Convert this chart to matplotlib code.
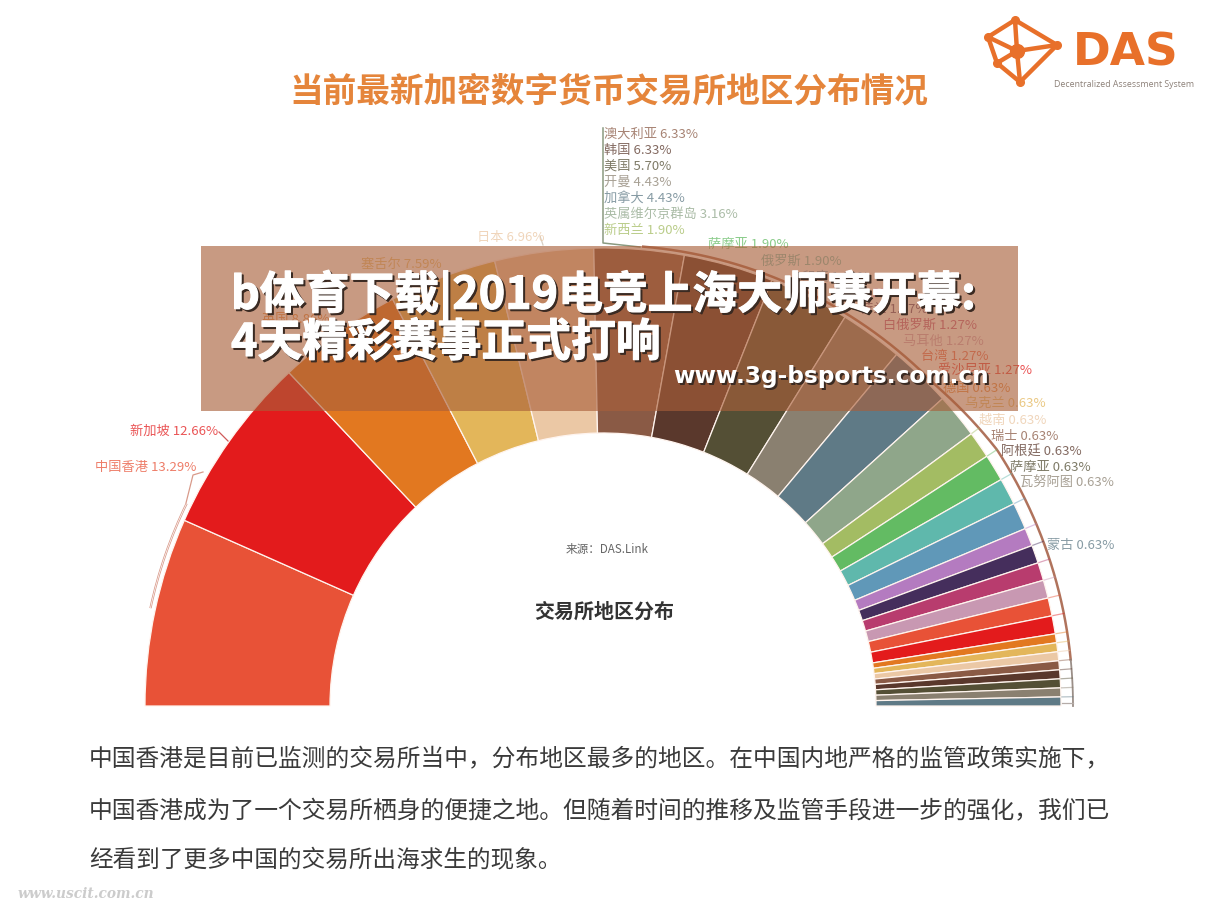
import numpy as np
import matplotlib
matplotlib.use("Agg")
import matplotlib.pyplot as plt
import matplotlib.patheffects as pe
from matplotlib.patches import Arc, Rectangle

plt.rcParams['font.family'] = ['Noto Sans CJK SC', 'DejaVu Sans']

# Slices, left to right over the half ring
regions = ["中国香港", "新加坡", "英国", "塞舌尔", "日本", "澳大利亚", "韩国", "美国", "开曼", "加拿大",
           "英属维尔京群岛", "新西兰", "萨摩亚", "俄罗斯", "印度", "法国", "荷兰", "白俄罗斯", "马耳他",
           "台湾", "爱沙尼亚", "德国", "乌克兰", "越南", "瑞士", "阿根廷", "萨摩亚", "瓦努阿图", "蒙古"]
shares = [13.29, 12.66, 8.86, 7.59, 6.96, 6.33, 6.33, 5.70, 4.43, 4.43,
          3.16, 1.90, 1.90, 1.90, 1.90, 1.27, 1.27, 1.27, 1.27,
          1.27, 1.27, 0.63, 0.63, 0.63, 0.63, 0.63, 0.63, 0.63, 0.63]
palette = ["#e85237", "#e31b1c", "#e27820", "#e3b65a", "#ebc8a5", "#8a5a45", "#5a382c", "#544f35",
           "#8a8070", "#5f7a86", "#8fa68a", "#a3bc63", "#63bb63", "#5fb8ac", "#6098b8", "#b47bc0",
           "#452e5c", "#b83c6e", "#c898b2"]

# Where each label sits, in picture pixels (left edge, middle)
label_x = [95, 130, 262, 361, 477, 604, 604, 604, 604, 604,
           604, 604, 708, 761, 802, 832, 860, 883, 903,
           921, 938, 943, 965, 979, 991, 1001, 1010, 1020, 1047]
label_y = [467, 431, 319, 264, 237, 134, 150, 166, 182, 198,
           214, 230, 244, 261, 277, 293, 309, 325, 341,
           356, 371, 388, 403, 420, 436, 452, 467, 483, 546]

title = "当前最新加密数字货币交易所地区分布情况"
source = "来源：DAS.Link"
centre_title = "交易所地区分布"
banner_lines = ["b体育下载|2019电竞上海大师赛开幕:", "4天精彩赛事正式打响"]
banner_url = "www.3g-bsports.com.cn"
body_lines = ["中国香港是目前已监测的交易所当中，分布地区最多的地区。在中国内地严格的监管政策实施下，",
              "中国香港成为了一个交易所栖身的便捷之地。但随着时间的推移及监管手段进一步的强化，我们已",
              "经看到了更多中国的交易所出海求生的现象。"]

W, H = 1218, 913
CX, CY, R, RING = 603, H - 706, 458, 185


def py(y):
    return H - y


def px(n):
    return n * 0.72


def arc_radius(a):
    # the leader ring drifts outwards towards the right end
    return np.interp(a, [0, 33, 44, 90], [470, 470, 462, 461])


fig = plt.figure(figsize=(W / 100, H / 100), dpi=100)
ax = fig.add_axes([0, 0, 1, 1])

colors = [palette[i % len(palette)] for i in range(len(shares))]
# The hidden half keeps the ring on the top half of the circle
wedges, _ = ax.pie(shares + [sum(shares)], colors=colors + ["white"], startangle=180, counterclock=False,
                   center=(CX, CY), radius=R,
                   wedgeprops=dict(width=RING, edgecolor="#fff4ee", linewidth=0.9))
wedges[-1].set_visible(False)
ax.set_xlim(0, W)
ax.set_ylim(0, H)
ax.axis("off")

edges = 180 - np.cumsum([0] + shares) / sum(shares) * 180

# leader ring round the right part of the half circle
ang = np.linspace(edges[24], 85, 200)
ax.plot(CX + arc_radius(ang) * np.cos(np.radians(ang)), CY + arc_radius(ang) * np.sin(np.radians(ang)),
        color="#b0735c", lw=1.8)
ang = np.linspace(0, edges[24], 40)
ax.plot(CX + arc_radius(ang) * np.cos(np.radians(ang)), CY + arc_radius(ang) * np.sin(np.radians(ang)),
        color="#9b8f88", lw=1.3)
for i in range(11, len(shares)):
    t = np.radians(edges[i])
    r2 = arc_radius(edges[i])
    ax.plot([CX + (R + 1) * np.cos(t), CX + r2 * np.cos(t)], [CY + (R + 1) * np.sin(t), CY + r2 * np.sin(t)],
            color=colors[i], alpha=0.45, lw=0.9)
ax.plot([1062, 1073], [py(703), py(703)], color="#b5aca8", lw=0.9)

# leaders on the left and for the stacked list
ax.add_patch(Arc((CX, CY), 2 * 463, 2 * 463, theta1=edges[1] - 2, theta2=167.8, color="#d99a8a", lw=1.6))
ax.add_patch(Arc((CX, CY), 2 * 463, 2 * 463, theta1=edges[1] - 2, theta2=167.8, color="#ffffff", lw=0.5))
ax.plot([186, 193, 203], [py(503), py(475), py(472)], color="#d99a8a", lw=0.9)
ax.plot([219, 228], [py(432), py(441)], color="#cf5a5a", lw=0.9)
ax.plot([603, 603, 640], [py(128), py(243), py(247)], color="#8a9a80", lw=1.1)
ax.plot([540, 543], [py(236), py(245)], color="#d8cfc4", lw=0.9)

for i, (name, share) in enumerate(zip(regions, shares)):
    ax.text(label_x[i], py(label_y[i]), f"{name} {share:.2f}%", color=colors[i], alpha=0.75,
            fontsize=px(13.2), va="center", ha="left")

ax.text(289, py(92), title, fontsize=px(33.7), color="#e5853b", weight="bold", ha="left", va="center")
ax.text(566, py(549), source, fontsize=px(11.6), color="#666666", ha="left", va="center")
ax.text(534, py(611), centre_title, fontsize=px(20), color="#333333", weight="bold", ha="left", va="center")

for y, size, line in zip([760, 812, 861], [23.7, 23.8, 23.6], body_lines):
    ax.text(89, py(y), line, fontsize=px(size), color="#3a3a3a", ha="left", va="center")
ax.text(18, py(894), "www.uscit.com.cn", fontsize=px(13.8), color="#cccccc", weight="bold", style="italic",
        family="DejaVu Serif", ha="left", va="center")

# logo
logo_pts = {"t": (1015, 20), "l": (988, 37), "r": (1057, 45), "c": (1017, 51), "ll": (997, 63), "b": (1020, 82)}
for a, b in [("t", "l"), ("t", "r"), ("r", "b"), ("b", "ll"), ("ll", "l"), ("c", "t"), ("c", "l"), ("c", "r"),
             ("c", "ll"), ("c", "b")]:
    ax.plot([logo_pts[a][0], logo_pts[b][0]], [py(logo_pts[a][1]), py(logo_pts[b][1])], color="#e8702a", lw=3.2,
            solid_capstyle="round")
for p in logo_pts.values():
    ax.plot(p[0], py(p[1]), "o", color="#e8702a", ms=5.5)
ax.plot(1017, py(51), "o", color="#e8702a", ms=10)
ax.text(1073, py(53), "DAS", fontsize=px(45.5), color="#e8702a", weight="bold", family="DejaVu Sans", ha="left",
        va="center")
ax.text(1054, py(84), "Decentralized Assessment System", fontsize=px(8.8), color="#8c8078", family="Open Sans",
        ha="left", va="center")

# banner over the chart
ax.add_patch(Rectangle((201, py(411)), 817, 165, facecolor=(169 / 255, 95 / 255, 58 / 255), alpha=0.63,
                       edgecolor="none", zorder=5))
heavy = [pe.withStroke(linewidth=0.8, foreground="white")]
shadow = [pe.withStroke(linewidth=0.8, foreground="#3a2a22")]
for y, line in zip([296, 343], banner_lines):
    ax.text(233, py(y + 2), line, fontsize=px(44.8), color="#3a2a22", weight="bold", ha="left", va="center",
            zorder=6, path_effects=shadow)
    ax.text(231, py(y), line, fontsize=px(44.8), color="white", weight="bold", ha="left", va="center", zorder=7,
            path_effects=heavy)
ax.text(675, py(378), banner_url, fontsize=px(23.3), color="#3a2a22", weight="bold", family="DejaVu Sans",
        ha="left", va="center", zorder=6)
ax.text(673, py(376), banner_url, fontsize=px(23.3), color="white", weight="bold", family="DejaVu Sans",
        ha="left", va="center", zorder=7)

fig.savefig("out.png", dpi=100, facecolor="white")
